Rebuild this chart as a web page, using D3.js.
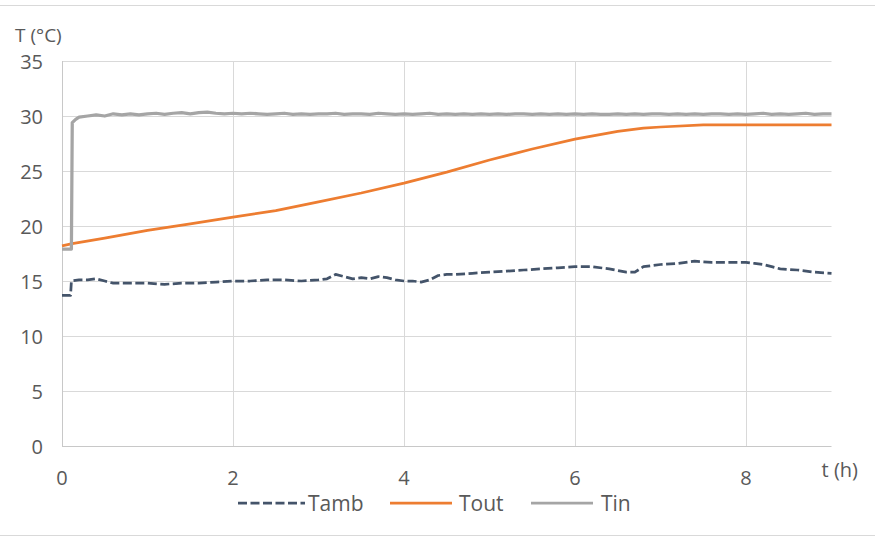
<!DOCTYPE html>
<html>
<head>
<meta charset="utf-8">
<script src="https://cdn.jsdelivr.net/npm/d3@7"></script>
<style>
  body { margin: 0; background: #fff; }
  text { font-family: "Open Sans", sans-serif; fill: #595959; }
</style>
</head>
<body>
<svg id="chart"></svg>
<script>
var width = 875;
var height = 538;

// ticks
var xTicks = [0, 2, 4, 6, 8];
var yTicks = [0, 5, 10, 15, 20, 25, 30, 35];

// Tamb (ambient)
var tambTime = [0, 0.1, 0.11, 0.2, 0.3, 0.4, 0.5, 0.6, 0.8, 1.0, 1.2, 1.4, 1.6, 1.8, 2.0, 2.2, 2.4, 2.6, 2.8, 3.0,
    3.1, 3.2, 3.3, 3.4, 3.5, 3.6, 3.7, 3.8, 3.9, 4.0, 4.1, 4.2, 4.3, 4.4, 4.5, 4.6, 4.8, 5.0, 5.2, 5.4,
    5.6, 5.8, 6.0, 6.2, 6.4, 6.6, 6.7, 6.8, 6.9, 7.0, 7.2, 7.4, 7.6, 7.8, 8.0, 8.1, 8.2, 8.3, 8.4, 8.6, 8.8, 9.0];
var tambValue = [13.7, 13.7, 15.0, 15.1, 15.1, 15.2, 15.0, 14.8, 14.8, 14.8, 14.7, 14.8, 14.8, 14.9, 15.0, 15.0, 15.1, 15.1, 15.0, 15.1,
    15.2, 15.6, 15.4, 15.2, 15.3, 15.2, 15.4, 15.3, 15.1, 15.0, 15.0, 14.9, 15.1, 15.5, 15.6, 15.6, 15.7, 15.8, 15.9, 16.0,
    16.1, 16.2, 16.3, 16.3, 16.1, 15.8, 15.8, 16.3, 16.4, 16.5, 16.6, 16.8, 16.7, 16.7, 16.7, 16.6, 16.5, 16.3, 16.1, 16.0, 15.8, 15.7];

// Tout (outlet)
var toutTime = [0, 0.12, 0.5, 1, 1.5, 2, 2.5, 3, 3.5, 4, 4.5, 5, 5.5, 6, 6.5, 6.8, 7, 7.5, 8, 8.5, 9];
var toutValue = [18.2, 18.4, 18.9, 19.6, 20.2, 20.8, 21.4, 22.2, 23.0, 23.9, 24.9, 26.0, 27.0, 27.9, 28.6, 28.9, 29.0, 29.2, 29.2, 29.2, 29.2];

// Tin (inlet)
var tinTime = [0, 0.11, 0.12, 0.16, 0.2, 0.3, 0.4, 0.5, 0.6, 0.7, 0.8, 0.9, 1.0, 1.1, 1.2, 1.3, 1.4, 1.5, 1.6, 1.7, 1.8, 1.9,
    2.0, 2.1, 2.2, 2.3, 2.4, 2.5, 2.6, 2.7, 2.8, 2.9, 3.0, 3.1, 3.2, 3.3, 3.4, 3.5, 3.6, 3.7, 3.8, 3.9,
    4.0, 4.1, 4.2, 4.3, 4.4, 4.5, 4.6, 4.7, 4.8, 4.9, 5.0, 5.1, 5.2, 5.3, 5.4, 5.5, 5.6, 5.7, 5.8, 5.9,
    6.0, 6.1, 6.2, 6.3, 6.4, 6.5, 6.6, 6.7, 6.8, 6.9, 7.0, 7.1, 7.2, 7.3, 7.4, 7.5, 7.6, 7.7, 7.8, 7.9,
    8.0, 8.1, 8.2, 8.3, 8.4, 8.5, 8.6, 8.7, 8.8, 8.9, 9.0];
var tinValue = [17.9, 17.9, 29.4, 29.7, 29.9, 30.0, 30.1, 30.0, 30.2, 30.1, 30.2, 30.1, 30.2, 30.25, 30.15, 30.25, 30.3, 30.2, 30.3, 30.35, 30.25, 30.2,
    30.25, 30.2, 30.25, 30.2, 30.15, 30.2, 30.25, 30.15, 30.2, 30.15, 30.2, 30.2, 30.25, 30.15, 30.2, 30.2, 30.15, 30.25, 30.2, 30.15,
    30.2, 30.15, 30.2, 30.25, 30.15, 30.2, 30.15, 30.2, 30.15, 30.2, 30.15, 30.2, 30.15, 30.2, 30.2, 30.15, 30.2, 30.15, 30.2, 30.15,
    30.2, 30.15, 30.2, 30.15, 30.15, 30.2, 30.15, 30.2, 30.15, 30.2, 30.2, 30.15, 30.2, 30.15, 30.2, 30.15, 30.2, 30.2, 30.15, 30.2,
    30.15, 30.2, 30.25, 30.15, 30.2, 30.15, 30.2, 30.25, 30.15, 30.2, 30.2];

var series = [
    { name: "Tamb", time: tambTime, value: tambValue, color: "#44546A", dash: "9,3.5" },
    { name: "Tout", time: toutTime, value: toutValue, color: "#ED7D31", dash: null },
    { name: "Tin", time: tinTime, value: tinValue, color: "#A5A5A5", dash: null }
];

var x = d3.scaleLinear().domain([0, 9]).range([62, 831.5]);
var y = d3.scaleLinear().domain([0, 35]).range([446, 61]);

var svg = d3.select("#chart").attr("width", width).attr("height", height);

// chart border
svg.append("rect")
    .attr("x", -1).attr("y", 5.5)
    .attr("width", width + 2).attr("height", 530)
    .attr("fill", "none").attr("stroke", "#d9d9d9");

// gridlines
svg.append("g").selectAll("line")
    .data(yTicks.filter(function (d) { return d > 0; }))
    .enter().append("line")
    .attr("x1", x(0)).attr("x2", x(9))
    .attr("y1", function (d) { return Math.round(y(d)) + 0.5; })
    .attr("y2", function (d) { return Math.round(y(d)) + 0.5; })
    .attr("stroke", "#d9d9d9");

svg.append("g").selectAll("line")
    .data(xTicks.filter(function (d) { return d > 0; }))
    .enter().append("line")
    .attr("y1", y(0)).attr("y2", y(35))
    .attr("x1", function (d) { return Math.round(x(d)) + 0.5; })
    .attr("x2", function (d) { return Math.round(x(d)) + 0.5; })
    .attr("stroke", "#d9d9d9");

// axis lines
svg.append("line")
    .attr("x1", x(0) + 0.5).attr("x2", x(0) + 0.5)
    .attr("y1", y(35)).attr("y2", y(0))
    .attr("stroke", "#c8c8c8");
svg.append("line")
    .attr("x1", x(0)).attr("x2", x(9))
    .attr("y1", Math.round(y(0)) + 0.5).attr("y2", Math.round(y(0)) + 0.5)
    .attr("stroke", "#c8c8c8");

// tick labels
svg.append("g").selectAll("text")
    .data(yTicks)
    .enter().append("text")
    .attr("x", 43)
    .attr("y", function (d) { return y(d) + 8; })
    .attr("text-anchor", "end")
    .style("font-size", "20px")
    .text(function (d) { return d; });

svg.append("g").selectAll("text")
    .data(xTicks)
    .enter().append("text")
    .attr("x", function (d) { return x(d); })
    .attr("y", 485)
    .attr("text-anchor", "middle")
    .style("font-size", "20px")
    .text(function (d) { return d; });

// axis titles
svg.append("text")
    .attr("x", 15).attr("y", 42)
    .style("font-size", "19px")
    .text("T (°C)");

svg.append("text")
    .attr("x", 858).attr("y", 477)
    .attr("text-anchor", "end")
    .style("font-size", "20px")
    .text("t (h)");

// lines
var line = d3.line()
    .x(function (d) { return x(d[0]); })
    .y(function (d) { return y(d[1]); });

series.forEach(function (s) {
    var pts = s.time.map(function (t, i) { return [t, s.value[i]]; });
    svg.append("path")
        .datum(pts)
        .attr("d", line)
        .attr("fill", "none")
        .attr("stroke", s.color)
        .attr("stroke-width", s.name == "Tin" ? 3.25 : 2.75)
        .attr("stroke-linejoin", "round")
        .attr("stroke-dasharray", s.dash);
});

// legend
var legendPos = [
    { x1: 238, x2: 305, tx: 308 },
    { x1: 390, x2: 452, tx: 459 },
    { x1: 531, x2: 593, tx: 601 }
];

var legend = svg.append("g").selectAll("g")
    .data(series)
    .enter().append("g");

legend.append("line")
    .attr("x1", function (d, i) { return legendPos[i].x1; })
    .attr("x2", function (d, i) { return legendPos[i].x2; })
    .attr("y1", 503).attr("y2", 503)
    .attr("stroke", function (d) { return d.color; })
    .attr("stroke-width", 2.75)
    .attr("stroke-dasharray", function (d) { return d.dash; });

legend.append("text")
    .attr("x", function (d, i) { return legendPos[i].tx; })
    .attr("y", 511)
    .style("font-size", "21px")
    .text(function (d) { return d.name; });
</script>
</body>
</html>
